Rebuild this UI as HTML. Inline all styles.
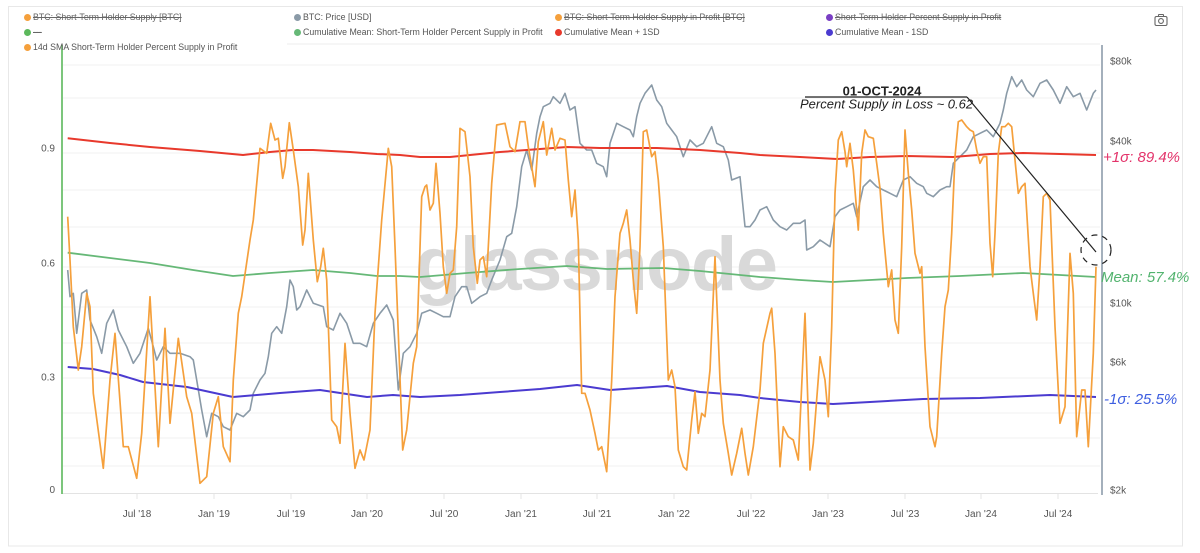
<!DOCTYPE html>
<html>
<head>
<meta charset="utf-8">
<style>
  html,body{margin:0;padding:0;background:#fff;}
  body{width:1200px;height:553px;overflow:hidden;position:relative;font-family:"Liberation Sans",Arial,sans-serif;}
  .lg{position:absolute;font-size:8.8px;color:#555;line-height:10px;white-space:nowrap;}
  .lg .d{position:absolute;left:-9px;top:1.5px;width:7px;height:7px;border-radius:50%;}
  .st{text-decoration:line-through;color:#666;}
  svg{position:absolute;left:0;top:0;}
</style>
</head>
<body>
<svg width="1200" height="553" viewBox="0 0 1200 553" xmlns="http://www.w3.org/2000/svg" font-family="Liberation Sans, Arial, sans-serif">
  <!-- frame -->
  <rect x="8.5" y="6.5" width="1174" height="539.5" fill="none" stroke="#e8e8e8" stroke-width="1"/>
  <!-- grid -->
  <g stroke="#f1f1f1" stroke-width="1">
    <line x1="287" y1="44" x2="1100" y2="44" stroke="#ececec"/>
    <line x1="63" y1="65" x2="1100" y2="65"/>
    <line x1="63" y1="98" x2="1100" y2="98"/>
    <line x1="63" y1="153" x2="1100" y2="153"/>
    <line x1="63" y1="190" x2="1100" y2="190"/>
    <line x1="63" y1="227" x2="1100" y2="227"/>
    <line x1="63" y1="267" x2="1100" y2="267"/>
    <line x1="63" y1="307" x2="1100" y2="307"/>
    <line x1="63" y1="343" x2="1100" y2="343"/>
    <line x1="63" y1="378" x2="1100" y2="378"/>
    <line x1="63" y1="413" x2="1100" y2="413"/>
    <line x1="63" y1="438" x2="1100" y2="438"/>
    <line x1="63" y1="466" x2="1100" y2="466"/>
  </g>
  <line x1="62" y1="493.5" x2="1098" y2="493.5" stroke="#e3e3e3" stroke-width="1"/>
  <!-- x ticks -->
  <g stroke="#e6e6e6" stroke-width="1">
    <line x1="137" y1="494" x2="137" y2="499"/><line x1="214" y1="494" x2="214" y2="499"/>
    <line x1="291" y1="494" x2="291" y2="499"/><line x1="367" y1="494" x2="367" y2="499"/>
    <line x1="444" y1="494" x2="444" y2="499"/><line x1="521" y1="494" x2="521" y2="499"/>
    <line x1="597" y1="494" x2="597" y2="499"/><line x1="674" y1="494" x2="674" y2="499"/>
    <line x1="751" y1="494" x2="751" y2="499"/><line x1="828" y1="494" x2="828" y2="499"/>
    <line x1="905" y1="494" x2="905" y2="499"/><line x1="981" y1="494" x2="981" y2="499"/>
    <line x1="1058" y1="494" x2="1058" y2="499"/>
  </g>
  <!-- watermark -->
  <text x="415" y="290" font-size="76" fill="#d9d9d9" textLength="363" lengthAdjust="spacing" font-weight="bold">glassnode</text>

  <!-- axes -->
  <line x1="62" y1="45" x2="62" y2="494" stroke="#5cb85c" stroke-width="1.6"/>
  <line x1="1102" y1="45" x2="1102" y2="495" stroke="#8e9cab" stroke-width="1.6"/>

  <!-- price -->
  <polyline fill="none" stroke="#8a9aa7" stroke-width="1.6" stroke-linejoin="round" points="67.7,270 70,296.7 73.3,293.3 76.7,333.3 81.7,293.3 86.7,290 90,320 96.7,336.7 101.7,353.3 106.7,323.3 113.3,310 118.3,330 126.7,346.7 133.3,363.3 140,353.3 148.3,328.3 153.3,346.7 156.7,360 163.3,346.7 170,353.3 180,353.3 190,356.7 193.3,360 196.7,380 201.7,410 206.7,436.7 211.7,413.3 218.3,416.7 223.3,426.7 230,430 236.7,413.3 243.3,416.7 250,410 253.3,393.3 260,380 265,373.3 268.3,356.7 271.7,333.3 276.7,326.7 281.7,333.3 286.7,306.7 290,280 293.3,286.7 296.7,310 300,306.7 306.7,290 313.3,303.3 323.3,306.7 326.7,326.7 333.3,330 340,313.3 346.7,323.3 353.3,343.3 360,343.3 366.7,346.7 373.3,323.3 380,313.3 386.7,305 393.3,320 398.3,390 403.3,353.3 410,346.7 416.7,333.3 421.7,313.3 430,310 436.7,313.3 443.3,316.7 450,316.7 455,296.7 461.7,286.7 466.7,286.7 471.7,303.3 480,296.7 486.7,293.3 491.7,280 500,260 506.7,236.7 511.7,233.3 516.7,206.7 521.7,166.7 526.7,150 531.7,170 536.7,133.3 540,116.7 543.3,106.7 550,103.3 553.3,96.7 560,103.3 565,93.3 570,110 575,106.7 580,143.3 586.7,150 591.7,150 596.7,163.3 603.3,166.7 606.7,176.7 610,143.3 616.7,123.3 623.3,126.7 630,130 633.3,136.7 636.7,116.7 640,103.3 645,93.3 651.7,85 656.7,100 661.7,106.7 666.7,123.3 671.7,130 676.7,136.7 683.3,156.7 690,140 696.7,146.7 703.3,143.3 711.7,126.7 716.7,143.3 723.3,146.7 728.3,160 731.7,180 740,176.7 745,226.7 750,226.7 755,220 760,210 766.7,206.7 773.3,220 780,226.7 786.7,230 793.3,223.3 800,223.3 805,220 806.7,250 813.3,246.7 820,240 830,246.7 835,216.7 840,210 846.7,206.7 853.3,203.3 856.7,216.7 863.3,186.7 870,180 876.7,186.7 883.3,190 890,193.3 896.7,196.7 903.3,180 910,176.7 916.7,183.3 923.3,186.7 926.7,193.3 933.3,196.7 940,190 946.7,186.7 950,186.7 953.3,163.3 960,156.7 966.7,150 973.3,136.7 980,133.3 986.7,130 993.3,136.7 1000,123.3 1003.3,110 1006.7,93.3 1011.7,76.7 1016.7,86.7 1021.7,80 1026.7,90 1033.3,96.7 1040,83.3 1046.7,80 1053.3,90 1060,103.3 1066.7,86.7 1073.3,96.7 1080,93.3 1086.7,110 1093.3,93.3 1096,90"/>

  <!-- +1SD -->
  <polyline fill="none" stroke="#e8392c" stroke-width="2" stroke-linejoin="round" points="67.7,138.3 110,143 150,147 200,151 243,155 270,152 293,150 313,150 350,152 377,154 400,155 420,157 450,157 500,152 540,149 567,147 600,148 657,148 700,150 740,153 760,155 800,157 837,159 870,157 907,156 953,157 990,154 1023,153 1060,154 1096,155"/>
  <!-- mean -->
  <polyline fill="none" stroke="#66b877" stroke-width="1.8" stroke-linejoin="round" points="67.7,252.7 110,258 150,263 193,270 233,276 270,273 313,270 350,273 377,276 400,276 420,277 467,273 520,269 567,266 607,269 663,268 700,271 740,275 760,277 800,280 833,282 870,280 907,278 960,276 1023,273 1060,275 1096,277"/>
  <!-- -1SD -->
  <polyline fill="none" stroke="#4b3bd0" stroke-width="2" stroke-linejoin="round" points="67.7,367 93,369 120,375 143,382 187,387 233,397 280,393 320,390 367,397 393,395 420,397 460,395 500,392 540,389 577,385 610,390 667,386 700,392 740,395 760,398 800,402 833,404 870,402 923,399 980,398 1050,395 1096,397"/>

  <!-- 14d SMA -->
  <polyline fill="none" stroke="#f5a03c" stroke-width="1.7" stroke-linejoin="round" points="67.7,216.7 70,260 73.3,326.7 78.3,370 81.7,346.7 86.7,293.3 90,306.7 93.3,393.3 103.3,468.3 110,380 115,333.3 123.3,446.7 128.3,446.7 136.7,478.3 141.7,433.3 150,296.7 158.3,446.7 165,328.3 170,423.3 178.3,338.3 186.7,396.7 191.7,413.3 200,483.3 206.7,476.7 213.3,413.3 218.3,396.7 223.3,446.7 230,461.7 233.3,380 238.3,313.3 241.7,296.7 250,240 253.3,220 260,148.3 266.7,153.3 270.7,123.3 275,140 278.3,138.3 282.7,178.3 285,166.7 289.3,122.7 293.3,150 298.3,186.7 302.7,245 305,230 308.3,173.3 313.3,240 317.3,281.7 320.7,266.7 323.3,248.3 326.7,280 331.7,420 336.7,426.7 340,443.3 345,343.3 350,413.3 355,468.3 360,450 364,460 370,430 375,313.3 381.7,220 388.3,148.3 391.7,166.7 395,246.7 398.3,333.3 402.7,450 406.7,430 413.3,363.3 416.7,346.7 421.7,196.7 425,186.7 426.7,185 430,210 433.3,203.3 436,163.3 440,213.3 443.3,266.7 446.7,293.3 450,273.3 453.3,270 456.7,226.7 460,128.3 465,131.7 470,176.7 473.3,246.7 477.3,283.3 480,260 483.3,256.7 486.7,276.7 491.7,183.3 496.7,125 505,123.3 510,146.7 515,151.7 520,121.7 525,121.7 528.3,146.7 535,186.7 538.3,141.7 543.3,121.7 546.7,155 551.7,128.3 555,150 560,138.3 565,140 568.3,180 571.7,216.7 575,190 578.3,240 581.7,393.3 585,393.3 590,410 595,433.3 598.3,450 601.7,446.7 606.7,471.7 611.7,380 615,296.7 620,233.3 623.3,223.3 626.7,210 630,240 633.3,280 636.7,313.3 640,246.7 643.3,131.7 646.7,130 651.7,156.7 655,151.7 658.3,180 663.3,246.7 668.3,380 671.7,370 675,386.7 678.3,450 683.3,466.7 686.7,470 691.7,420 695,391.7 698.3,433.3 701.7,413.3 705,416.7 710,370 715,256.7 720,380 723.3,423.3 728.3,453.3 731.7,475 736.7,453.3 741.7,428.3 745,453.3 748.3,475 753.3,446.7 760,390 763.3,343.3 770,313.3 771.7,308.3 775,353.3 780,466.7 783.3,426.7 788.3,436.7 793.3,440 798.3,460 805,313.3 810,470 813.3,443.3 820,356.7 825,380 828.3,416.7 831.7,326.7 835,193.3 838.3,140 841.7,131.7 845,151.7 846.7,166.7 850,143.3 853.3,170 858.3,230 861.7,153.3 865,130 868.3,136.7 873.3,138.3 876.7,163.3 880,188.3 883.3,233.3 888.3,286.7 891.7,270 895,320 898.3,333.3 901.7,246.7 905,130 908.3,173.3 911.7,210 915,253.3 920,273.3 921.7,266.7 925,346.7 930,426.7 935,446.7 936.7,436.7 941.7,353.3 945,306.7 948.3,290 951.7,233.3 955,156.7 958.3,121.7 961.7,120 966.7,126.7 970,130 973.3,131.7 976.7,150 980,163.3 983.3,156.7 986.7,156.7 990,243.3 992.7,276.7 995,233.3 998.3,153.3 1001.7,126.7 1005,126.7 1008.3,123.3 1011.7,126.7 1015,160 1018.3,193.3 1021.7,186.7 1025,183.3 1030,266.7 1033.3,293.3 1036.7,320 1040,266.7 1043.3,196.7 1046.7,193.3 1050,200 1055,326.7 1060,423.3 1065,406.7 1070,253.3 1073.3,293.3 1076.7,436.7 1081.7,390 1085,390 1088.3,446.7 1093.3,353.3 1096,266.7"/>

  <!-- annotation -->
  <line x1="805" y1="97" x2="967" y2="97" stroke="#222" stroke-width="1.2"/>
  <line x1="967" y1="97" x2="1096" y2="252" stroke="#222" stroke-width="1.2"/>
  <circle cx="1096" cy="250" r="15" fill="none" stroke="#222" stroke-width="1.2" stroke-dasharray="6 5"/>
  <text x="882" y="95.5" font-size="13" font-weight="bold" fill="#222" text-anchor="middle">01-OCT-2024</text>
  <text x="800" y="108.5" font-size="13" font-style="italic" fill="#222">Percent Supply in Loss ~ 0.62</text>

  <!-- sigma labels -->
  <text x="1103" y="162" font-size="15" font-style="italic" fill="#e3336a">+1σ: 89.4%</text>
  <text x="1101" y="282" font-size="15" font-style="italic" fill="#52b36e">Mean: 57.4%</text>
  <text x="1104" y="404" font-size="15" font-style="italic" fill="#3d5ee0">-1σ: 25.5%</text>

  <!-- left axis labels -->
  <g font-size="10" fill="#555" text-anchor="end">
    <text x="55" y="151.5">0.9</text>
    <text x="55" y="266.5">0.6</text>
    <text x="55" y="380.5">0.3</text>
    <text x="55" y="493">0</text>
  </g>
  <!-- right axis labels -->
  <g font-size="10" fill="#555">
    <text x="1110" y="64.5">$80k</text>
    <text x="1110" y="144.5">$40k</text>
    <text x="1110" y="306.5">$10k</text>
    <text x="1110" y="365.5">$6k</text>
    <text x="1110" y="493.5">$2k</text>
  </g>
  <!-- x axis labels -->
  <g font-size="10" fill="#555" text-anchor="middle">
    <text x="137" y="517">Jul '18</text>
    <text x="214" y="517">Jan '19</text>
    <text x="291" y="517">Jul '19</text>
    <text x="367" y="517">Jan '20</text>
    <text x="444" y="517">Jul '20</text>
    <text x="521" y="517">Jan '21</text>
    <text x="597" y="517">Jul '21</text>
    <text x="674" y="517">Jan '22</text>
    <text x="751" y="517">Jul '22</text>
    <text x="828" y="517">Jan '23</text>
    <text x="905" y="517">Jul '23</text>
    <text x="981" y="517">Jan '24</text>
    <text x="1058" y="517">Jul '24</text>
  </g>
  <!-- camera icon -->
  <g fill="none" stroke="#666" stroke-width="1.1">
    <rect x="1155" y="16.5" width="12" height="9" rx="1.5"/>
    <rect x="1158.5" y="14.5" width="5" height="2" rx="0.5"/>
    <circle cx="1161" cy="21" r="2.4"/>
  </g>
</svg>

<!-- legend -->
<div class="lg" style="left:33px;top:12px;"><span class="d" style="background:#f5a03c"></span><span class="st">BTC: Short-Term Holder Supply [BTC]</span></div>
<div class="lg" style="left:303px;top:12px;"><span class="d" style="background:#8a9aa7"></span>BTC: Price [USD]</div>
<div class="lg" style="left:564px;top:12px;"><span class="d" style="background:#f5a03c"></span><span class="st">BTC: Short-Term Holder Supply in Profit [BTC]</span></div>
<div class="lg" style="left:835px;top:12px;"><span class="d" style="background:#7a3fc4"></span><span class="st">Short-Term Holder Percent Supply in Profit</span></div>

<div class="lg" style="left:33px;top:27px;"><span class="d" style="background:#5cb85c"></span><span class="st">---</span></div>
<div class="lg" style="left:303px;top:27px;"><span class="d" style="background:#66b877"></span>Cumulative Mean: Short-Term Holder Percent Supply in Profit</div>
<div class="lg" style="left:564px;top:27px;"><span class="d" style="background:#e8392c"></span>Cumulative Mean + 1SD</div>
<div class="lg" style="left:835px;top:27px;"><span class="d" style="background:#4b3bd0"></span>Cumulative Mean - 1SD</div>

<div class="lg" style="left:33px;top:42px;"><span class="d" style="background:#f5a03c"></span>14d SMA Short-Term Holder Percent Supply in Profit</div>
</body>
</html>
